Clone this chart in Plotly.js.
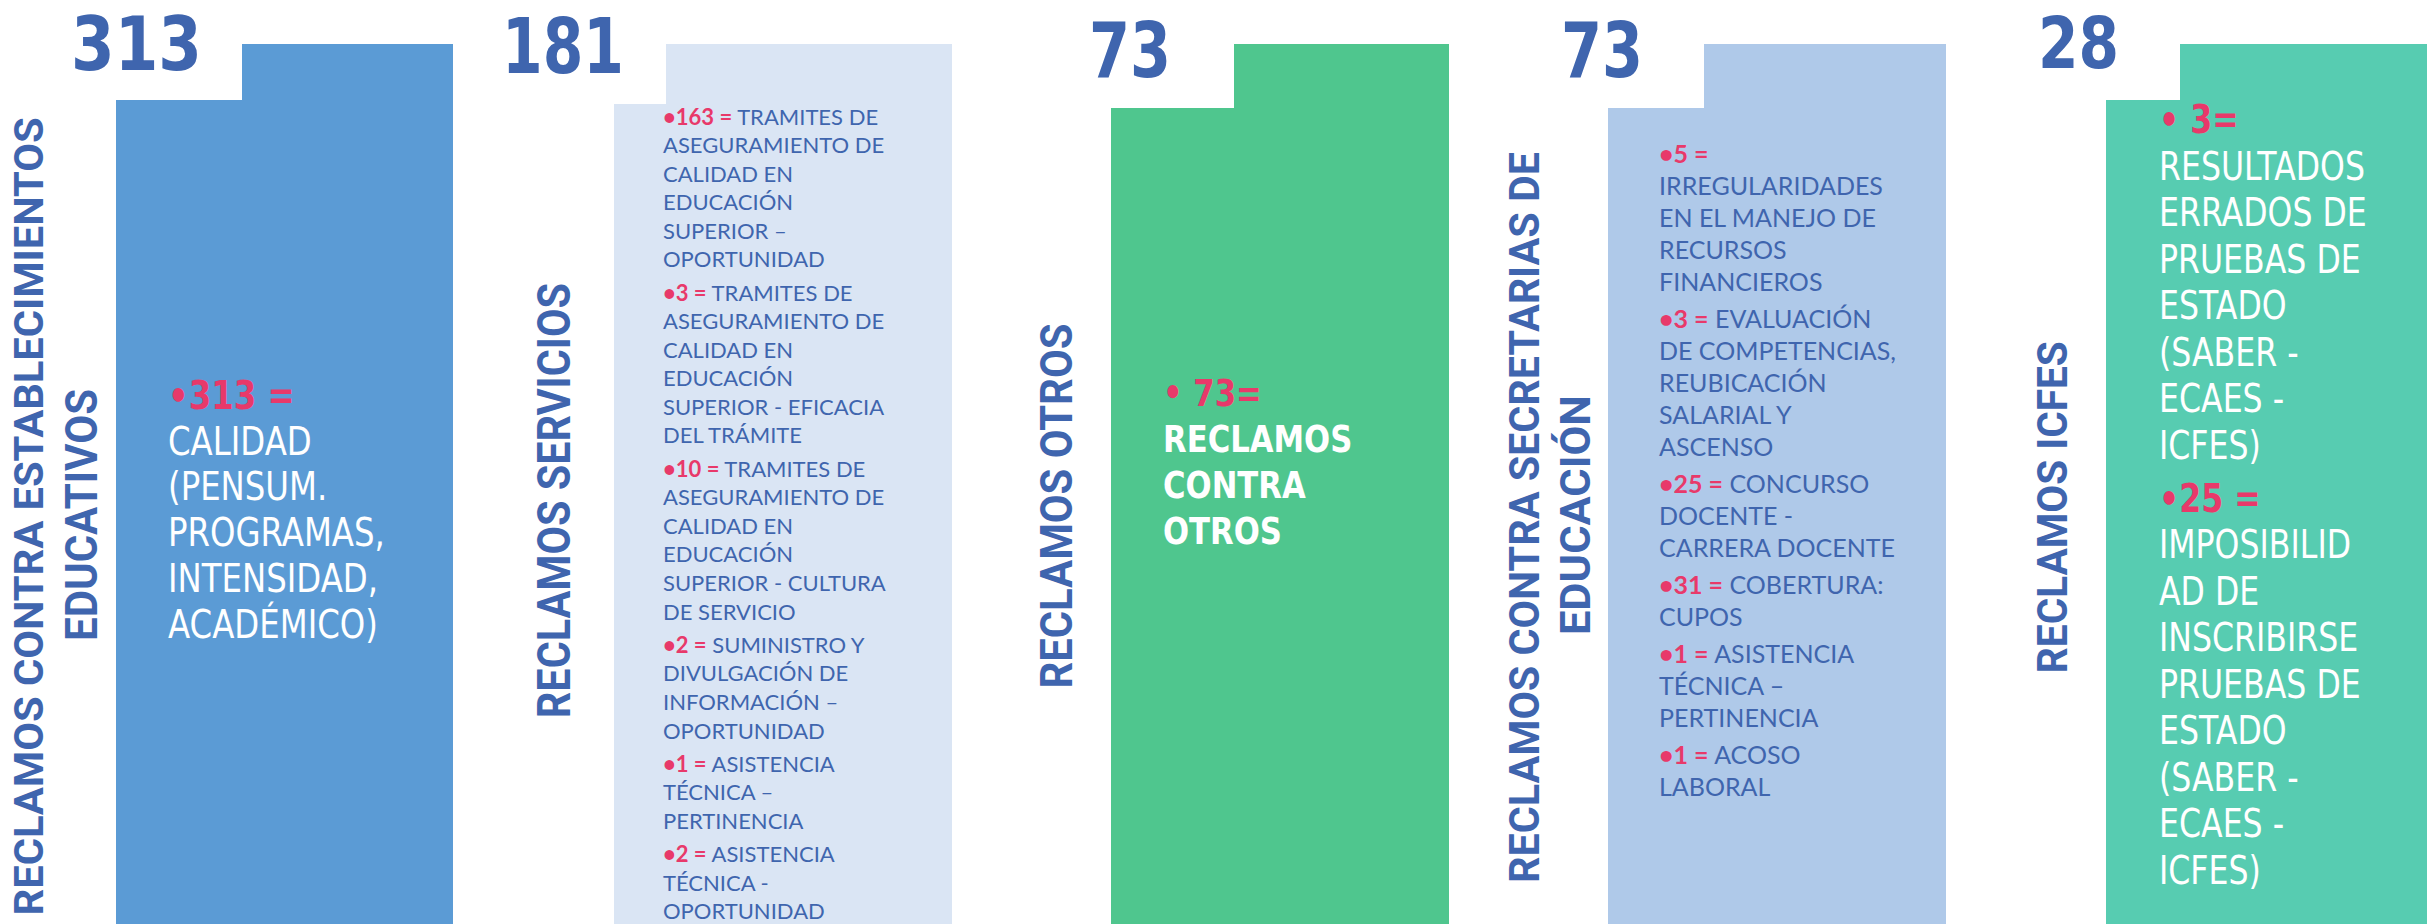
<!DOCTYPE html>
<html>
<head>
<meta charset="utf-8">
<script src="https://cdn.plot.ly/plotly-3.0.1.min.js"></script>
<style>html,body{margin:0;padding:0;background:#fff;}#chart{width:2427px;height:924px;}</style>
</head>
<body>
<div id="chart"></div>
<script>
// ---------------- DATA ----------------
const categories = [
  ["RECLAMOS CONTRA ESTABLECIMIENTOS", "EDUCATIVOS"],
  ["RECLAMOS SERVICIOS"],
  ["RECLAMOS OTROS"],
  ["RECLAMOS CONTRA SECRETARIAS DE", "EDUCACIÓN"],
  ["RECLAMOS ICFES"]
];
const totals = [313, 181, 73, 73, 28];

const establecimientosCounts = [313];
const establecimientosLabels = [["", "CALIDAD", "(PENSUM.", "PROGRAMAS,", "INTENSIDAD,", "ACADÉMICO)"]];

const serviciosCounts = [163, 3, 10, 2, 1, 2];
const serviciosLabels = [
  ["TRAMITES DE", "ASEGURAMIENTO DE", "CALIDAD EN", "EDUCACIÓN", "SUPERIOR –", "OPORTUNIDAD"],
  ["TRAMITES DE", "ASEGURAMIENTO DE", "CALIDAD EN", "EDUCACIÓN", "SUPERIOR - EFICACIA", "DEL TRÁMITE"],
  ["TRAMITES DE", "ASEGURAMIENTO DE", "CALIDAD EN", "EDUCACIÓN", "SUPERIOR - CULTURA", "DE SERVICIO"],
  ["SUMINISTRO Y", "DIVULGACIÓN DE", "INFORMACIÓN –", "OPORTUNIDAD"],
  ["ASISTENCIA", "TÉCNICA –", "PERTINENCIA"],
  ["ASISTENCIA", "TÉCNICA -", "OPORTUNIDAD"]
];

const otrosCounts = [73];
const otrosLabels = [["", "RECLAMOS", "CONTRA", "OTROS"]];

const secretariasCounts = [5, 3, 25, 31, 1, 1];
const secretariasLabels = [
  ["", "IRREGULARIDADES", "EN EL MANEJO DE", "RECURSOS", "FINANCIEROS"],
  ["EVALUACIÓN", "DE COMPETENCIAS,", "REUBICACIÓN", "SALARIAL Y", "ASCENSO"],
  ["CONCURSO", "DOCENTE -", "CARRERA DOCENTE"],
  ["COBERTURA:", "CUPOS"],
  ["ASISTENCIA", "TÉCNICA –", "PERTINENCIA"],
  ["ACOSO", "LABORAL"]
];

const icfesCounts = [3, 25];
const icfesLabels = [
  ["", "RESULTADOS", "ERRADOS DE", "PRUEBAS DE", "ESTADO", "(SABER -", "ECAES -", "ICFES)"],
  ["", "IMPOSIBILID", "AD DE", "INSCRIBIRSE", "PRUEBAS DE", "ESTADO", "(SABER -", "ECAES -", "ICFES)"]
];

const detailCounts = [establecimientosCounts, serviciosCounts, otrosCounts, secretariasCounts, icfesCounts];
const detailLabels = [establecimientosLabels, serviciosLabels, otrosLabels, secretariasLabels, icfesLabels];

// ---------------- STYLE / LAYOUT CONSTANTS ----------------
const W = 2427, H = 924;
const BLUE = "#3F65AE", PINK = "#E8396A";
const panelColors = ["#5B9BD5", "#DAE5F4", "#4FC68E", "#AFC9E9", "#57CCB1"];
const tabTop = 44;
const geom = [
  {tab: [242, 453], main: [116, 453], mainTop: 100},
  {tab: [666, 952], main: [614, 952], mainTop: 104},
  {tab: [1234, 1449], main: [1111, 1449], mainTop: 108},
  {tab: [1704, 1946], main: [1608, 1946], mainTop: 108},
  {tab: [2180, 2427], main: [2106, 2427], mainTop: 100}
];
// big numbers: left x, baseline, size, ink length (DejaVu Sans Bold: ascent .928, descent .236)
const numberStyle = [
  {x: 70, base: 70, size: 74, len: 131},
  {x: 501, base: 73, size: 77, len: 122},
  {x: 1088, base: 77, size: 77, len: 82},
  {x: 1560, base: 77, size: 77, len: 82},
  {x: 2037, base: 68, size: 72, len: 81}
];
const TITLE_FONT = "Roboto";
const titleStyle = [
  [{xc: 28.5, yc: 517, size: 40.5, len: 798}, {xc: 81, yc: 515, size: 45, len: 252}],
  [{xc: 553, yc: 500.5, size: 46, len: 435}],
  [{xc: 1056, yc: 506.5, size: 45, len: 365}],
  [{xc: 1523.5, yc: 517.5, size: 43, len: 731}, {xc: 1575, yc: 515, size: 43, len: 240}],
  [{xc: 2052, yc: 507, size: 42, len: 332}]
];
const bodyStyle = [
  {x: 167, y0: 410, dy: 45.6, gap: 0, family: "DejaVu Sans", size: 39, color: "#FFFFFF", bold: false, sx: 0.83, cap: 0.729, fmt: ["•{n} ="]},
  {x: 662, y0: 124, dy: 28.55, gap: 4.8, family: "Lato", size: 22, color: BLUE, bold: false, sx: 1, cap: 0.72, fmt: ["•{n} ="]},
  {x: 1162, y0: 407, dy: 46, gap: 0, family: "DejaVu Sans", size: 37, color: "#FFFFFF", bold: true, sx: 0.83, cap: 0.729, fmt: ["• {n}="]},
  {x: 1658, y0: 162, dy: 32, gap: 5, family: "Lato", size: 25, color: BLUE, bold: false, sx: 1, cap: 0.72, fmt: ["•{n} ="]},
  {x: 2158, y0: 134, dy: 46.5, gap: 6.5, family: "DejaVu Sans", size: 39, color: "#FFFFFF", bold: false, sx: 0.81, cap: 0.729, fmt: ["• {n}=", "•{n} ="]}
];

// ---------------- BUILD ----------------
const shapes = [];
const annotations = [];
const stretch = []; // per annotation: {len} or {sx}

geom.forEach((g, i) => {
  shapes.push({type: "rect", xref: "x", yref: "y", x0: g.tab[0], x1: g.tab[1], y0: tabTop, y1: H,
               fillcolor: panelColors[i], line: {width: 0}, layer: "below"});
  shapes.push({type: "rect", xref: "x", yref: "y", x0: g.main[0], x1: g.main[1], y0: g.mainTop, y1: H,
               fillcolor: panelColors[i], line: {width: 0}, layer: "below"});
});

function addAnn(a, st) { annotations.push(Object.assign({xref: "x", yref: "y", showarrow: false, borderpad: 0}, a)); stretch.push(st || null); }

// big numbers
totals.forEach((v, i) => {
  const s = numberStyle[i];
  addAnn({x: s.x, y: s.base - 0.346 * s.size, xanchor: "left", yanchor: "middle", align: "left", text: "<b>" + v + "</b>",
          font: {family: "DejaVu Sans", size: s.size, color: BLUE, weight: 700}}, {len: s.len, center: false});
});

// vertical titles
categories.forEach((lines, i) => {
  lines.forEach((t, j) => {
    const s = titleStyle[i][j];
    addAnn({x: s.xc, y: s.yc, xanchor: "center", yanchor: "middle", align: "center", textangle: -90, text: "<b>" + t + "</b>",
            font: {family: TITLE_FONT, size: s.size, color: BLUE, weight: 700}}, {len: s.len, center: true});
  });
});

// body text
detailCounts.forEach((counts, i) => {
  const s = bodyStyle[i];
  let base = s.y0;
  counts.forEach((n, k) => {
    const fmt = (s.fmt[k] || s.fmt[0]).replace("{n}", n);
    const lines = detailLabels[i][k];
    lines.forEach((line, j) => {
      let txt = line;
      if (j === 0) txt = '<span style="color:' + PINK + ';font-weight:700"><b>' + fmt + '</b></span>' + (line ? ' ' + line : '');
      if (s.bold && j > 0) txt = '<b>' + line + '</b>';
      addAnn({x: s.x, y: base - s.size * s.cap / 2, xanchor: "left", yanchor: "middle", align: "left", text: txt,
              font: {family: s.family, size: s.size, color: s.color}}, s.sx !== 1 ? {sx: s.sx, center: false} : null);
      base += s.dy;
    });
    base += s.gap;
  });
});

const layout = {
  width: W, height: H,
  margin: {l: 0, r: 0, t: 0, b: 0, pad: 0},
  paper_bgcolor: "#FFFFFF", plot_bgcolor: "#FFFFFF",
  xaxis: {range: [0, W], visible: false, fixedrange: true},
  yaxis: {range: [H, 0], visible: false, fixedrange: true},
  showlegend: false,
  shapes: shapes,
  annotations: annotations
};

Plotly.newPlot("chart", [], layout, {staticPlot: true, displayModeBar: false}).then(gd => {
  gd.querySelectorAll("g.annotation").forEach(g => {
    const idx = +g.getAttribute("data-index");
    const st = stretch[idx];
    if (!st) return;
    const t = g.querySelector("text.annotation-text");
    if (!t) return;
    const natural = t.getComputedTextLength();
    const L = st.len ? st.len : natural * st.sx;
    t.setAttribute("textLength", L);
    t.setAttribute("lengthAdjust", "spacingAndGlyphs");
    // keep the annotation box consistent with the condensed text
    const bg = g.querySelector("rect.bg");
    if (bg) {
      const w = +bg.getAttribute("width");
      const nw = Math.max(1, w - (natural - L));
      if (st.center) bg.setAttribute("x", +bg.getAttribute("x") + (w - nw) / 2);
      bg.setAttribute("width", nw);
    }
  });
});
</script>
</body>
</html>
